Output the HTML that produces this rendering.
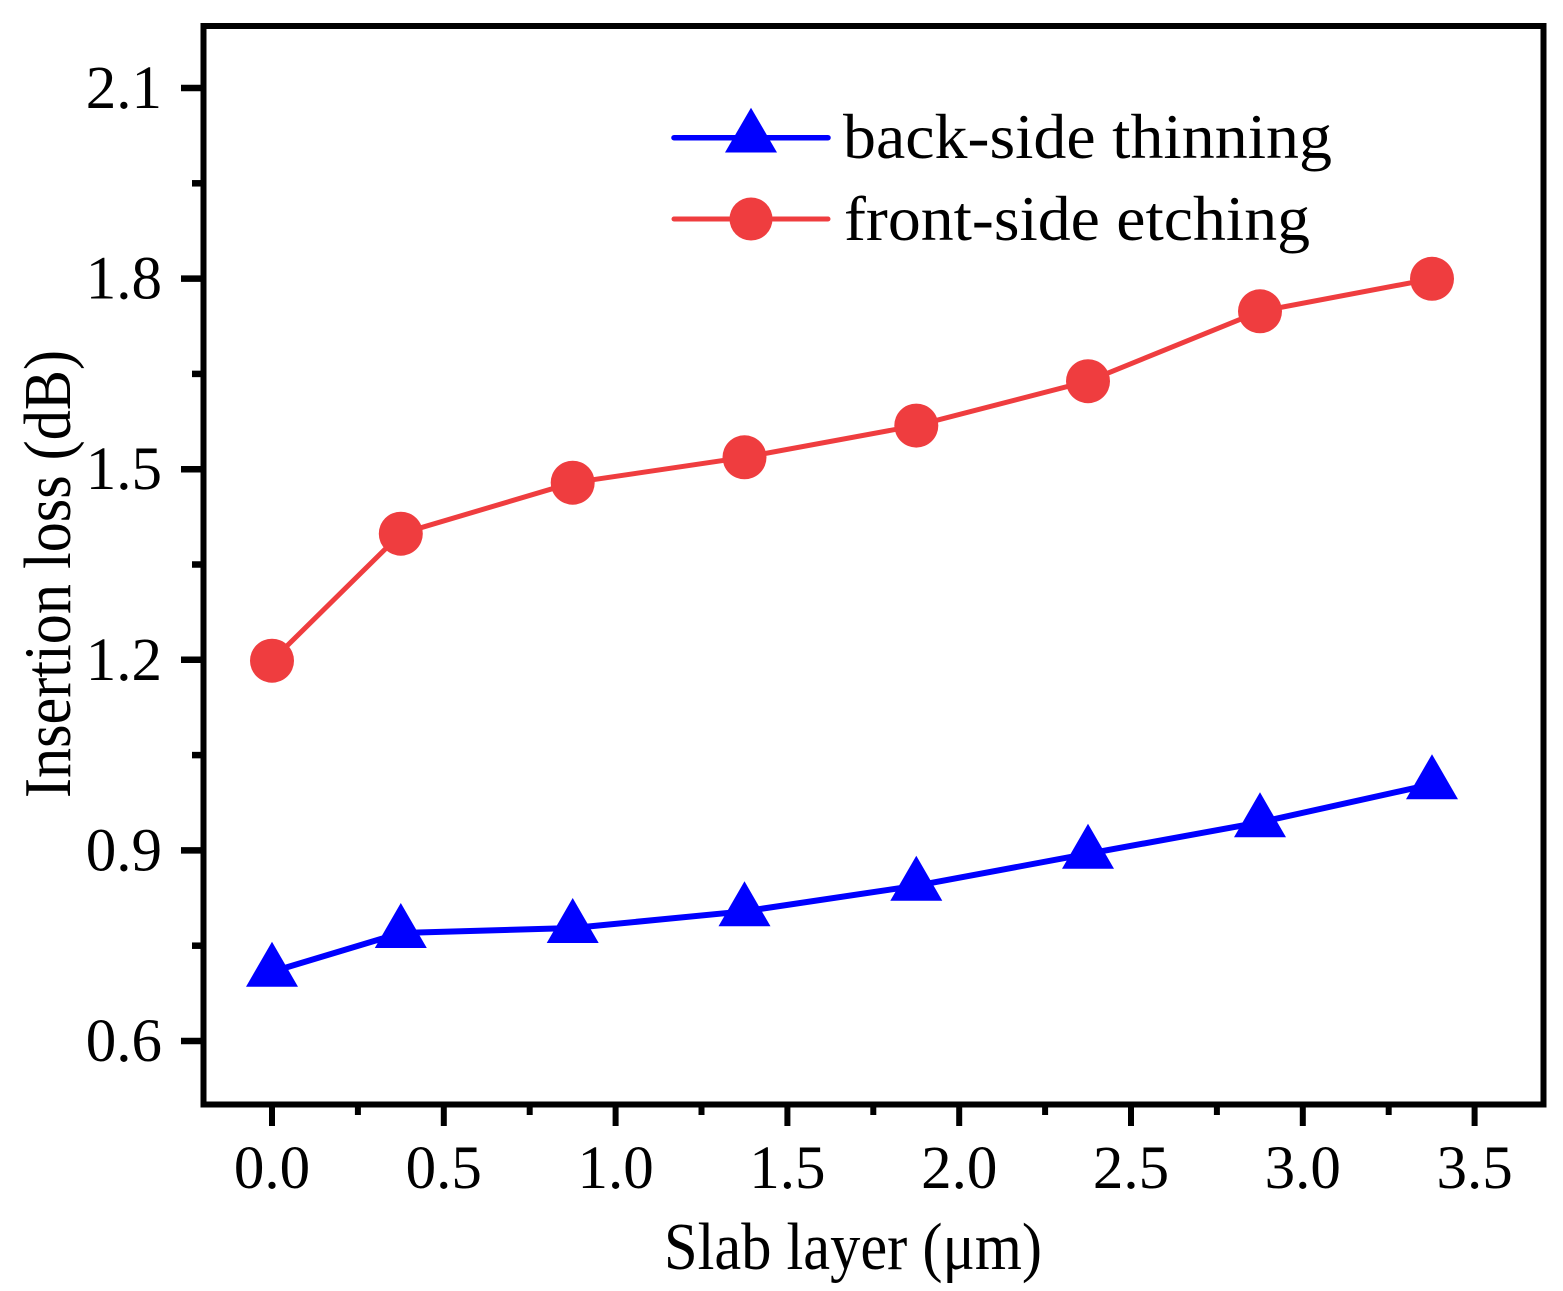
<!DOCTYPE html>
<html>
<head>
<meta charset="utf-8">
<style>
html,body{margin:0;padding:0;background:#fff;}
svg{display:block;}
text{font-family:"Liberation Serif","Times New Roman",serif;fill:#000;}
</style>
</head>
<body>
<svg width="1563" height="1291" viewBox="0 0 1563 1291" xmlns="http://www.w3.org/2000/svg">
<rect x="0" y="0" width="1563" height="1291" fill="#fff"/>

<!-- data lines -->
<polyline fill="none" stroke="#ef3d3f" stroke-width="5" stroke-linejoin="round"
  points="272,660.7 400.8,533.7 572.7,482.7 744.5,457.3 916.3,425.6 1088,381.2 1260,311.3 1432,278.8"/>
<polyline fill="none" stroke="#0000ff" stroke-width="6" stroke-linejoin="round"
  points="272,971.7 400.8,933 572.7,928 744.5,911.3 916.3,885.7 1088,853.7 1260,822.3 1432,784.2"/>

<!-- red markers -->
<g fill="#ef3d3f">
<circle cx="272" cy="660.7" r="22"/>
<circle cx="400.8" cy="533.7" r="22"/>
<circle cx="572.7" cy="482.7" r="22"/>
<circle cx="744.5" cy="457.3" r="22"/>
<circle cx="916.3" cy="425.6" r="22"/>
<circle cx="1088" cy="381.2" r="22"/>
<circle cx="1260" cy="311.3" r="22"/>
<circle cx="1432" cy="278.8" r="22"/>
</g>

<!-- blue markers (triangles) -->
<g fill="#0000ff">
<path d="M272,941.7 L298,986.7 L246,986.7 Z"/>
<path d="M400.8,903 L426.8,948 L374.8,948 Z"/>
<path d="M572.7,898 L598.7,943 L546.7,943 Z"/>
<path d="M744.5,881.3 L770.5,926.3 L718.5,926.3 Z"/>
<path d="M916.3,855.7 L942.3,900.7 L890.3,900.7 Z"/>
<path d="M1088,823.7 L1114,868.7 L1062,868.7 Z"/>
<path d="M1260,792.3 L1286,837.3 L1234,837.3 Z"/>
<path d="M1432,754.2 L1458,799.2 L1406,799.2 Z"/>
</g>

<!-- frame -->
<rect x="203.5" y="26" width="1340" height="1078.5" fill="none" stroke="#000" stroke-width="6"/>

<!-- y ticks -->
<g stroke="#000" stroke-width="6.5">
<line x1="201" y1="88" x2="181" y2="88"/>
<line x1="201" y1="278.6" x2="181" y2="278.6"/>
<line x1="201" y1="469.2" x2="181" y2="469.2"/>
<line x1="201" y1="659.8" x2="181" y2="659.8"/>
<line x1="201" y1="850.4" x2="181" y2="850.4"/>
<line x1="201" y1="1041" x2="181" y2="1041"/>
<line x1="201" y1="183.3" x2="192" y2="183.3"/>
<line x1="201" y1="373.9" x2="192" y2="373.9"/>
<line x1="201" y1="564.5" x2="192" y2="564.5"/>
<line x1="201" y1="755.1" x2="192" y2="755.1"/>
<line x1="201" y1="945.7" x2="192" y2="945.7"/>
</g>

<!-- x ticks -->
<g stroke="#000" stroke-width="6">
<line x1="272" y1="1107" x2="272" y2="1126"/>
<line x1="443.8" y1="1107" x2="443.8" y2="1126"/>
<line x1="615.6" y1="1107" x2="615.6" y2="1126"/>
<line x1="787.4" y1="1107" x2="787.4" y2="1126"/>
<line x1="959.2" y1="1107" x2="959.2" y2="1126"/>
<line x1="1131" y1="1107" x2="1131" y2="1126"/>
<line x1="1302.8" y1="1107" x2="1302.8" y2="1126"/>
<line x1="1474.6" y1="1107" x2="1474.6" y2="1126"/>
<line x1="357.9" y1="1107" x2="357.9" y2="1115"/>
<line x1="529.7" y1="1107" x2="529.7" y2="1115"/>
<line x1="701.5" y1="1107" x2="701.5" y2="1115"/>
<line x1="873.3" y1="1107" x2="873.3" y2="1115"/>
<line x1="1045.1" y1="1107" x2="1045.1" y2="1115"/>
<line x1="1216.9" y1="1107" x2="1216.9" y2="1115"/>
<line x1="1388.7" y1="1107" x2="1388.7" y2="1115"/>
</g>

<!-- y tick labels -->
<g font-size="61" text-anchor="end">
<text x="162" y="108">2.1</text>
<text x="162" y="298.6">1.8</text>
<text x="162" y="489.2">1.5</text>
<text x="162" y="679.8">1.2</text>
<text x="162" y="870.4">0.9</text>
<text x="162" y="1061">0.6</text>
</g>

<!-- x tick labels -->
<g font-size="61" text-anchor="middle">
<text x="272" y="1188">0.0</text>
<text x="443.8" y="1188">0.5</text>
<text x="615.6" y="1188">1.0</text>
<text x="787.4" y="1188">1.5</text>
<text x="959.2" y="1188">2.0</text>
<text x="1131" y="1188">2.5</text>
<text x="1302.8" y="1188">3.0</text>
<text x="1474.6" y="1188">3.5</text>
</g>

<!-- axis titles -->
<text x="664" y="1269" font-size="67" textLength="378" lengthAdjust="spacingAndGlyphs">Slab layer (μm)</text>
<text transform="translate(70,798) rotate(-90)" x="0" y="0" font-size="67" textLength="448" lengthAdjust="spacingAndGlyphs">Insertion loss (dB)</text>

<!-- legend -->
<line x1="674" y1="137.7" x2="828" y2="137.7" stroke="#0000ff" stroke-width="5.5" stroke-linecap="round"/>
<path d="M751,107.7 L777,152.5 L725,152.5 Z" fill="#0000ff"/>
<line x1="674" y1="219" x2="828" y2="219" stroke="#ef3d3f" stroke-width="5" stroke-linecap="round"/>
<circle cx="751" cy="219" r="21.5" fill="#ef3d3f"/>
<text x="843" y="158" font-size="64" textLength="489" lengthAdjust="spacingAndGlyphs">back-side thinning</text>
<text x="844" y="240" font-size="64" textLength="466" lengthAdjust="spacingAndGlyphs">front-side etching</text>
</svg>
</body>
</html>
